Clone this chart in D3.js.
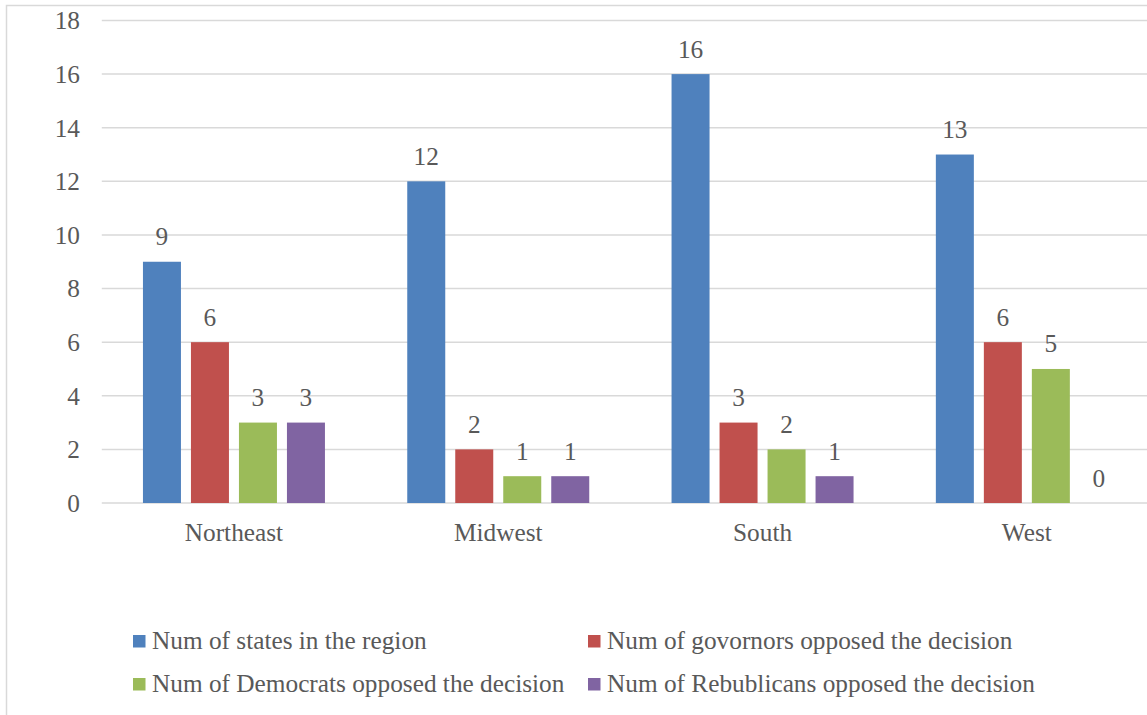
<!DOCTYPE html>
<html>
<head>
<meta charset="utf-8">
<script src="https://cdn.jsdelivr.net/npm/d3@7"></script>
<style>
  html, body { margin: 0; padding: 0; background: #fff; }
  svg { display: block; }
  text { font-family: "Liberation Serif", "Times New Roman", serif; fill: #595959; }
</style>
</head>
<body>
<svg id="chart" width="1147" height="715"></svg>
<script>
// Regions and the four counted series
const regions = ["Northeast", "Midwest", "South", "West"];
const seriesNames = [
  "Num of states in the region",
  "Num of govornors opposed the decision",
  "Num of Democrats opposed the decision",
  "Num of Rebublicans opposed the decision"
];
const statesInRegion = [9, 12, 16, 13];
const governorsOpposed = [6, 2, 3, 6];
const democratsOpposed = [3, 1, 2, 5];
const republicansOpposed = [3, 1, 1, 0];
const yTicks = [0, 2, 4, 6, 8, 10, 12, 14, 16, 18];
const colors = ["#4F81BD", "#C0504D", "#9BBB59", "#8064A2"];

const seriesValues = [statesInRegion, governorsOpposed, democratsOpposed, republicansOpposed];

const svg = d3.select("#chart");
const fontSize = 25.3;

// outer chart border (runs off the right and bottom edges)
svg.append("rect")
  .attr("x", 6.5).attr("y", 5.5)
  .attr("width", 1200).attr("height", 800)
  .attr("fill", "none")
  .attr("stroke", "#d9d9d9")
  .attr("stroke-width", 1.5);

const plotLeft = 101.8, bandW = 264.3;
const x0 = d3.scaleBand()
  .domain(regions)
  .range([plotLeft, plotLeft + bandW * regions.length])
  .paddingInner(0).paddingOuter(0);

const groupW = 182;
const x1 = d3.scaleBand()
  .domain(d3.range(seriesNames.length))
  .range([0, groupW])
  .paddingInner(10 / 48);

const y = d3.scaleLinear().domain([0, 18]).range([503, 20.5]);

// horizontal gridlines
svg.append("g")
  .selectAll("line")
  .data(yTicks)
  .join("line")
  .attr("x1", plotLeft).attr("x2", 1160)
  .attr("y1", d => y(d)).attr("y2", d => y(d))
  .attr("stroke", "#d9d9d9")
  .attr("stroke-width", 1.5);

// y axis tick labels
svg.append("g")
  .selectAll("text")
  .data(yTicks)
  .join("text")
  .attr("x", 80)
  .attr("y", d => y(d))
  .attr("dy", "0.35em")
  .attr("text-anchor", "end")
  .attr("font-size", fontSize)
  .text(d => d);

// bars and value labels, one group per region
const groups = svg.append("g")
  .selectAll("g")
  .data(regions)
  .join("g")
  .attr("transform", r => `translate(${x0(r) + (bandW - groupW) / 2},0)`);

groups.each(function (r, ri) {
  const g = d3.select(this);
  const vals = seriesValues.map(s => s[ri]);
  g.selectAll("rect")
    .data(vals)
    .join("rect")
    .attr("x", (v, i) => x1(i))
    .attr("width", x1.bandwidth())
    .attr("y", v => y(v))
    .attr("height", v => y(0) - y(v))
    .attr("fill", (v, i) => colors[i]);
  g.selectAll("text")
    .data(vals)
    .join("text")
    .attr("x", (v, i) => x1(i) + x1.bandwidth() / 2)
    .attr("y", v => y(v) - 16.5)
    .attr("text-anchor", "middle")
    .attr("font-size", fontSize)
    .text(v => v);
});

// category labels
svg.append("g")
  .selectAll("text")
  .data(regions)
  .join("text")
  .attr("x", r => x0(r) + bandW / 2)
  .attr("y", 541)
  .attr("text-anchor", "middle")
  .attr("font-size", fontSize)
  .text(r => r);

// legend, two columns by two rows
const legendPos = [
  { x: 133, y: 649 }, { x: 588, y: 649 },
  { x: 133, y: 692 }, { x: 588, y: 692 }
];
const legend = svg.append("g")
  .selectAll("g")
  .data(seriesNames)
  .join("g")
  .attr("transform", (d, i) => `translate(${legendPos[i].x},${legendPos[i].y})`);
legend.append("rect")
  .attr("x", 0).attr("y", -14)
  .attr("width", 12.5).attr("height", 12.5)
  .attr("fill", (d, i) => colors[i]);
legend.append("text")
  .attr("x", 19)
  .attr("y", 0)
  .attr("font-size", fontSize)
  .text(d => d);
</script>
</body>
</html>
